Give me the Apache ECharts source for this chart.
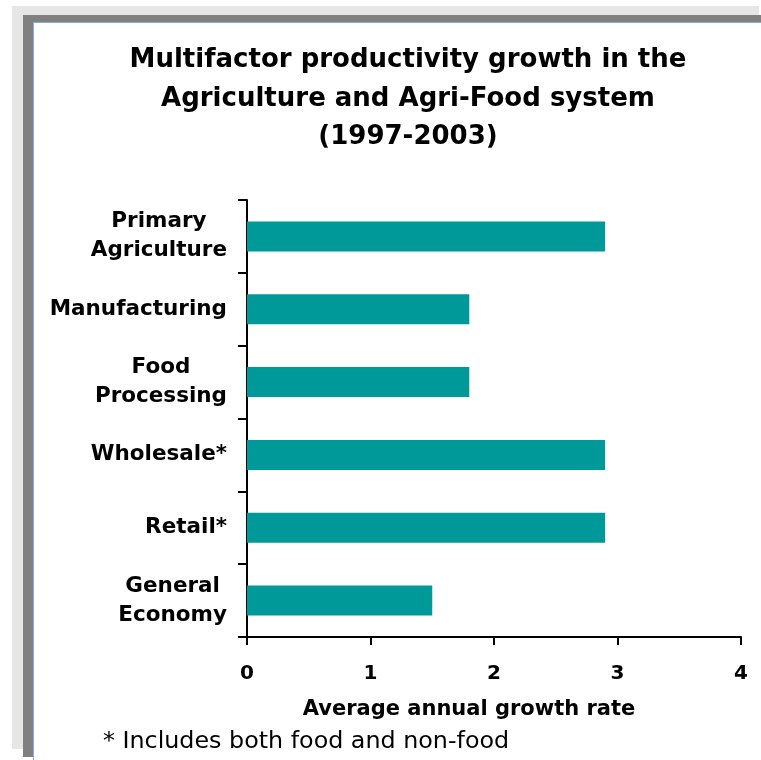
<!DOCTYPE html>
<html>
<head>
<meta charset="utf-8">
<script src="https://cdn.jsdelivr.net/npm/echarts@6/dist/echarts.min.js"></script>
<style>
html,body{margin:0;padding:0;background:#fff;}
#wrap{position:relative;width:761px;height:760px;overflow:hidden;background:#fff;}
.f{position:absolute;}
#chart{position:absolute;left:0;top:0;width:761px;height:760px;}
</style>
</head>
<body>
<div id="wrap">
  <div class="f" style="left:12px;top:6px;width:747px;height:743px;background:#e6e6e6;"></div>
  <div class="f" style="left:23px;top:15px;width:738px;height:742px;background:#808080;"></div>
  <div class="f" style="left:33px;top:22px;width:728px;height:738px;background:#8aa8f0;"></div>
  <div class="f" style="left:34px;top:23px;width:727px;height:737px;background:#ffffff;"></div>
  <div id="chart"></div>
</div>
<script>
var titleLines = ['Multifactor productivity growth in the', 'Agriculture and Agri-Food system', '(1997-2003)'];
var categories = ['Primary\nAgriculture', 'Manufacturing', 'Food\nProcessing', 'Wholesale*', 'Retail*', 'General\nEconomy'];
var growthRates = [2.9, 1.8, 1.8, 2.9, 2.9, 1.5];
var xTicks = [0, 1, 2, 3, 4];
var xAxisTitle = 'Average annual growth rate';
var footnote = '* Includes both food and non-food';

var FONT = '"DejaVu Sans", sans-serif';
var chart = echarts.init(document.getElementById('chart'), null, {renderer: 'canvas'});
chart.setOption({
  backgroundColor: 'transparent',
  animation: false,
  title: {
    text: titleLines.join('\n'),
    left: 403,
    top: 36,
    textAlign: 'center',
    textStyle: {fontFamily: FONT, fontWeight: 'bold', fontSize: 26, lineHeight: 38.5, color: '#000'}
  },
  grid: {left: 247, top: 200, width: 494, height: 437, containLabel: false},
  xAxis: {
    type: 'value',
    min: xTicks[0],
    max: xTicks[xTicks.length - 1],
    interval: 1,
    splitLine: {show: false},
    axisLine: {show: true, lineStyle: {color: '#000', width: 2}},
    axisTick: {show: true, length: 8, lineStyle: {color: '#000', width: 2}},
    axisLabel: {margin: 27, fontFamily: FONT, fontWeight: 'bold', fontSize: 20, color: '#000'},
    name: xAxisTitle,
    nameLocation: 'middle',
    nameGap: 62,
    nameTextStyle: {fontFamily: FONT, fontWeight: 'bold', fontSize: 21, color: '#000', padding: [0, 50, 0, 0]}
  },
  yAxis: {
    type: 'category',
    inverse: true,
    data: categories,
    axisLine: {show: true, lineStyle: {color: '#000', width: 2}},
    axisTick: {show: true, length: 9, lineStyle: {color: '#000', width: 2}},
    axisLabel: {
      margin: 20,
      align: 'right',
      lineHeight: 29,
      formatter: function (v) {
        return v.split('\n').map(function (s) { return '{c|' + s + '}'; }).join('\n');
      },
      rich: {c: {align: 'center', fontFamily: FONT, fontWeight: 'bold', fontSize: 21.5, lineHeight: 29, color: '#000'}}
    }
  },
  series: [{
    type: 'bar',
    data: growthRates,
    barWidth: 30,
    itemStyle: {color: '#009999'}
  }],
  graphic: [{
    type: 'text',
    left: 103,
    top: 730,
    style: {text: footnote, fontFamily: FONT, fontSize: 23.8, fill: '#000'}
  }]
});
</script>
</body>
</html>
